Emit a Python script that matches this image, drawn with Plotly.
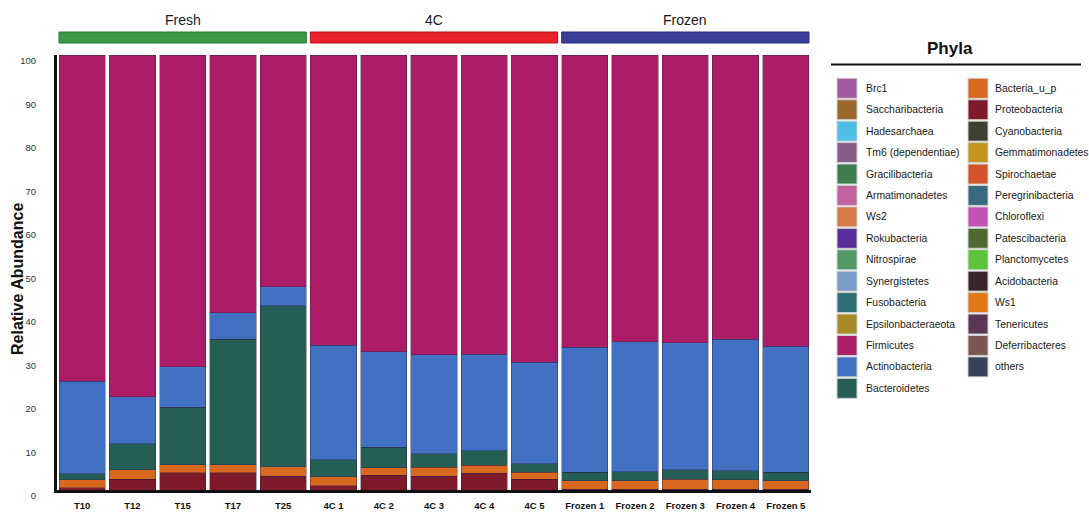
import plotly.graph_objects as go

# ---- data -------------------------------------------------------------
samples = ["T10", "T12", "T15", "T17", "T25",
           "4C 1", "4C 2", "4C 3", "4C 4", "4C 5",
           "Frozen 1", "Frozen 2", "Frozen 3", "Frozen 4", "Frozen 5"]

groups = ["Fresh", "4C", "Frozen"]
group_sizes = [5, 5, 5]
group_colors = ["#3b9a45", "#e8202a", "#3b3f98"]
group_edges = ["#2b7a34", "#b41219", "#2a2d78"]

# relative abundance (%) per sample, stacked bottom -> top
proteobacteria = [0.5, 2.5, 4.0, 4.0, 3.2, 1.0, 3.4, 3.2, 3.8, 2.5, 0.2, 0.2, 0.2, 0.2, 0.2]
bacteria_u_p   = [1.8, 2.1, 1.8, 1.8, 2.1, 2.1, 1.7, 2.0, 1.9, 1.6, 1.9, 1.9, 2.3, 2.1, 1.9]
bacteroidetes  = [1.4, 6.0, 13.2, 28.9, 37.1, 3.8, 4.7, 3.1, 3.3, 1.9, 2.0, 2.1, 2.1, 2.1, 2.0]
actinobacteria = [21.3, 10.8, 9.3, 6.0, 4.3, 26.4, 22.0, 22.8, 22.2, 23.4, 28.7, 29.9, 29.3, 30.2, 29.0]
firmicutes     = [75.0, 78.6, 71.7, 59.3, 53.3, 66.7, 68.2, 68.9, 68.8, 70.6, 67.2, 65.9, 66.1, 65.4, 66.9]

y_ticks = [0, 10, 20, 30, 40, 50, 60, 70, 80, 90, 100]

# legend: two columns of phyla with their colours
legend_col1 = ["Brc1", "Saccharibacteria", "Hadesarchaea", "Tm6 (dependentiae)",
               "Gracilibacteria", "Armatimonadetes", "Ws2", "Rokubacteria",
               "Nitrospirae", "Synergistetes", "Fusobacteria", "Epsilonbacteraeota",
               "Firmicutes", "Actinobacteria", "Bacteroidetes"]
legend_col2 = ["Bacteria_u_p", "Proteobacteria", "Cyanobacteria", "Gemmatimonadetes",
               "Spirochaetae", "Peregrinibacteria", "Chloroflexi", "Patescibacteria",
               "Planctomycetes", "Acidobacteria", "Ws1", "Tenericutes",
               "Deferribacteres", "others"]

phylum_colors = {
    "Brc1": "#a05a9e", "Saccharibacteria": "#9a672c", "Hadesarchaea": "#4cc0e8",
    "Tm6 (dependentiae)": "#8a5c8a", "Gracilibacteria": "#3f7d4e",
    "Armatimonadetes": "#c462a0", "Ws2": "#d97a46", "Rokubacteria": "#5a2e9a",
    "Nitrospirae": "#4f9a66", "Synergistetes": "#7a9dc8", "Fusobacteria": "#2f6f7a",
    "Epsilonbacteraeota": "#a88a26", "Firmicutes": "#ad1c66",
    "Actinobacteria": "#4271c1", "Bacteroidetes": "#255e55",
    "Bacteria_u_p": "#d8681e", "Proteobacteria": "#7d1b2b", "Cyanobacteria": "#403f32",
    "Gemmatimonadetes": "#c4961e", "Spirochaetae": "#d5532a",
    "Peregrinibacteria": "#3a6a80", "Chloroflexi": "#c452b6",
    "Patescibacteria": "#4f6a30", "Planctomycetes": "#5cc43a",
    "Acidobacteria": "#3a2428", "Ws1": "#e07818", "Tenericutes": "#5a3558",
    "Deferribacteres": "#7a5850", "others": "#364258",
}

stack = [("Proteobacteria", proteobacteria), ("Bacteria_u_p", bacteria_u_p),
         ("Bacteroidetes", bacteroidetes), ("Actinobacteria", actinobacteria),
         ("Firmicutes", firmicutes)]

# ---- layout geometry (pixels) -----------------------------------------
W, H = 1089, 512
L, R, T, B = 57, 278, 55, 22
PW, PH = W - L - R, H - T - B


def px_x(p):
    return (p - L) / PW


def px_y(p):
    return (H - B - p) / PH


NARROW = "Liberation Sans Narrow, Arial Narrow, Liberation Sans, sans-serif"
SANS = "Liberation Sans, Arial, Helvetica, sans-serif"

fig = go.Figure()
x_idx = list(range(len(samples)))
for name, vals in stack:
    fig.add_trace(go.Bar(
        x=x_idx, y=vals, name=name,
        marker=dict(color=phylum_colors[name],
                    line=dict(color="rgba(45,30,70,0.55)", width=0.7)),
        showlegend=False,
        hovertemplate="%{customdata}<br>" + name + ": %{y}%<extra></extra>",
        customdata=samples,
    ))

shapes = []
annotations = []

# group header bars above the stacks
start = 0
for g, n, fc, ec in zip(groups, group_sizes, group_colors, group_edges):
    x0, x1 = start - 0.46, start + n - 1 + 0.46
    shapes.append(dict(type="rect", xref="x", yref="paper",
                       x0=x0, x1=x1, y0=px_y(43), y1=px_y(32),
                       fillcolor=fc, line=dict(color=ec, width=1)))
    annotations.append(dict(x=(x0 + x1) / 2, y=px_y(20), xref="x", yref="paper",
                            text=g, showarrow=False, xanchor="center", yanchor="middle",
                            font=dict(family=NARROW, size=14, color="#1a1a1a")))
    start += n

# y-axis title
annotations.append(dict(x=px_x(17), y=px_y(279), xref="paper", yref="paper",
                        text="<b>Relative Abundance</b>", textangle=-90, showarrow=False,
                        xanchor="center", yanchor="middle",
                        font=dict(family=SANS, size=16, color="#111111")))

# legend block
annotations.append(dict(x=px_x(950), y=px_y(48), xref="paper", yref="paper",
                        text="<b>Phyla</b>", showarrow=False, xanchor="center",
                        yanchor="middle", font=dict(family=SANS, size=17, color="#111111")))
shapes.append(dict(type="line", xref="paper", yref="paper",
                   x0=px_x(831), x1=px_x(1081), y0=px_y(64.5), y1=px_y(64.5),
                   line=dict(color="#111111", width=2)))

row0, row_step = 88.3, 21.43
for col_names, sq_left, txt_left in ((legend_col1, 837, 864), (legend_col2, 968, 993)):
    for i, nm in enumerate(col_names):
        cy = row0 + i * row_step
        shapes.append(dict(type="rect", xref="paper", yref="paper",
                           x0=px_x(sq_left), x1=px_x(sq_left + 20),
                           y0=px_y(cy + 10), y1=px_y(cy - 10),
                           fillcolor=phylum_colors[nm],
                           line=dict(color="#d0d0d0", width=1)))
        annotations.append(dict(x=px_x(txt_left), y=px_y(cy), xref="paper", yref="paper",
                                text=nm, showarrow=False, xanchor="left", yanchor="middle",
                                font=dict(family=SANS, size=10.4, color="#1a1a1a")))

fig.update_layout(
    width=W, height=H,
    margin=dict(l=L, r=R, t=T, b=B, pad=0, autoexpand=False),
    barmode="stack", bargap=0.08,
    plot_bgcolor="white", paper_bgcolor="white",
    shapes=shapes, annotations=annotations,
    xaxis=dict(
        range=[-0.5, len(samples) - 0.5],
        tickmode="array", tickvals=x_idx,
        ticktext=[f"<b>{s}</b>" for s in samples],
        tickfont=dict(family=NARROW, size=9.5, color="#111111"),
        showgrid=False, zeroline=False, ticks="",
        showline=True, linecolor="#111111", linewidth=3,
        ticklabelstandoff=5, automargin=False,
    ),
    yaxis=dict(
        range=[0, 100],
        tickmode="array", tickvals=y_ticks,
        tickfont=dict(family=NARROW, size=9.5, color="#333333"),
        showgrid=False, zeroline=False, ticks="",
        showline=True, linecolor="#111111", linewidth=3,
        ticklabelstandoff=16, ticklabelshift=6, automargin=False,
    ),
)

fig.write_html("out.html")
